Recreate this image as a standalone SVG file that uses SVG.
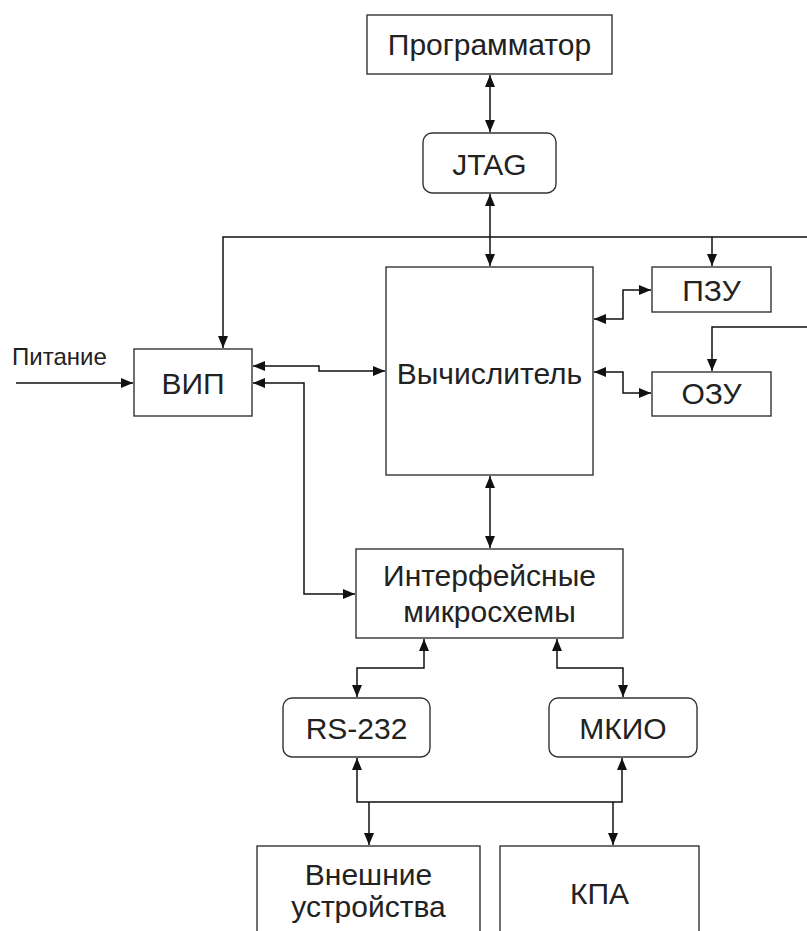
<svg xmlns="http://www.w3.org/2000/svg" width="807" height="931" viewBox="0 0 807 931">
<style>
.box{fill:#fff;stroke:#333;stroke-width:1.4}
.ln{fill:none;stroke:#111;stroke-width:1.5}
.t{font-family:"Liberation Sans",Arial,sans-serif;font-size:30px;fill:#222;text-anchor:middle}
.s{font-size:24px;text-anchor:start}
</style>
<defs>
<marker id="a" markerUnits="userSpaceOnUse" markerWidth="13" markerHeight="11" refX="12" refY="5.5" orient="auto-start-reverse">
<path d="M0,0.5 L12,5.5 L0,10.5 z" fill="#111"/>
</marker>
</defs>
<rect width="807" height="931" fill="#fff"/>
<g id="connectors">
<path class="ln" d="M490,75 V132" marker-start="url(#a)" marker-end="url(#a)"/>
<path class="ln" d="M490,194 V266" marker-start="url(#a)" marker-end="url(#a)"/>
<path class="ln" d="M807,237 H223 V348" marker-end="url(#a)"/>
<path class="ln" d="M712,237 V266" marker-end="url(#a)"/>
<path class="ln" d="M807,327 H712 V371" marker-end="url(#a)"/>
<path class="ln" d="M594,319 H623 V290 H651" marker-start="url(#a)" marker-end="url(#a)"/>
<path class="ln" d="M594,372 H623 V393 H651" marker-start="url(#a)" marker-end="url(#a)"/>
<path class="ln" d="M253,366 H319 V371 H385" marker-start="url(#a)" marker-end="url(#a)"/>
<path class="ln" d="M253,383 H304 V594 H355" marker-start="url(#a)" marker-end="url(#a)"/>
<path class="ln" d="M16,383 H133" marker-end="url(#a)"/>
<path class="ln" d="M490,476 V548" marker-start="url(#a)" marker-end="url(#a)"/>
<path class="ln" d="M424,639 V668 H357 V697" marker-start="url(#a)" marker-end="url(#a)"/>
<path class="ln" d="M557,639 V668 H623 V697" marker-start="url(#a)" marker-end="url(#a)"/>
<path class="ln" d="M357,758 V802 H622 V758" marker-start="url(#a)" marker-end="url(#a)"/>
<path class="ln" d="M369,802 V845" marker-end="url(#a)"/>
<path class="ln" d="M613,802 V845" marker-end="url(#a)"/>
</g>
<g id="programmator"><rect class="box" x="367" y="15" width="245" height="59"/><text class="t" x="489.5" y="55">Программатор</text></g>
<g id="jtag"><rect class="box" x="423" y="133" width="133" height="60" rx="9"/><text class="t" x="489.5" y="175">JTAG</text></g>
<g id="vychislitel"><rect class="box" x="386" y="267" width="207" height="208"/><text class="t" x="489.5" y="384">Вычислитель</text></g>
<g id="pzu"><rect class="box" x="652" y="267" width="119" height="45"/><text class="t" x="711.5" y="301">ПЗУ</text></g>
<g id="ozu"><rect class="box" x="652" y="372" width="119" height="44"/><text class="t" x="711.5" y="404">ОЗУ</text></g>
<g id="vip"><rect class="box" x="134" y="349" width="118" height="67"/><text class="t" x="193" y="394">ВИП</text></g>
<g id="pitanie"><text class="t s" x="12" y="365">Питание</text></g>
<g id="interface"><rect class="box" x="356" y="549" width="267" height="89"/><text class="t" x="489.5" y="586">Интерфейсные</text><text class="t" x="489.5" y="622">микросхемы</text></g>
<g id="rs232"><rect class="box" x="283" y="698" width="147" height="59" rx="9"/><text class="t" x="356.5" y="739">RS-232</text></g>
<g id="mkio"><rect class="box" x="549" y="698" width="148" height="59" rx="9"/><text class="t" x="623" y="739">МКИО</text></g>
<g id="vneshnie"><rect class="box" x="257" y="846" width="223" height="100"/><text class="t" x="368.5" y="885">Внешние</text><text class="t" x="368.5" y="917">устройства</text></g>
<g id="kpa"><rect class="box" x="500" y="846" width="199" height="100"/><text class="t" x="599.5" y="904">КПА</text></g>
</svg>
